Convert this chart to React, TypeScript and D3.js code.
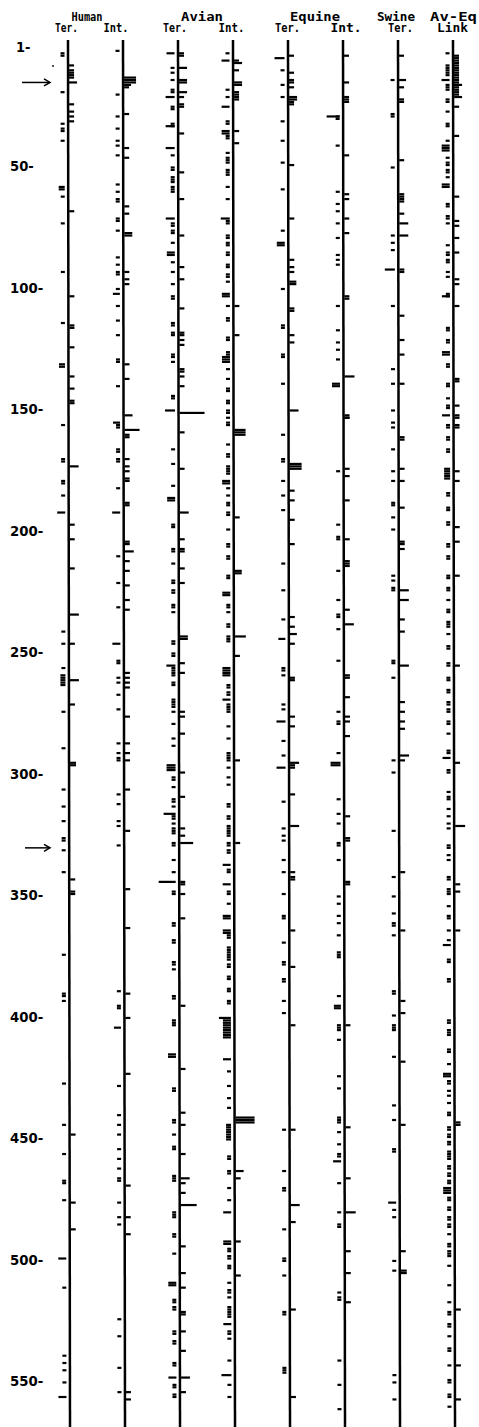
import React from "react";
import * as d3 from "d3";

// [position, side (-1 left / 1 right), length px (optional), run of consecutive positions (optional)]
type Mark = [number, number, number?, number?];

const columns = ["humanTer", "humanInt", "avianTer", "avianInt", "equineTer", "equineInt", "swineTer", "avEqLink"];
const subLabels = ["Ter.", "Int.", "Ter.", "Int.", "Ter.", "Int.", "Ter.", "Link"];
const groupNames = ["Human", "Avian", "Equine", "Swine", "Av-Eq"];
const groupCols = [[0, 1], [2, 3], [4, 5], [6, 6], [7, 7]];
const axisTicks = [1, 50, 100, 150, 200, 250, 300, 350, 400, 450, 500, 550];
const arrowMarks = [16, 331];

const humanTer: Mark[] = [
  [4,-1,4,2],[9,1],[11,1,5,4],[16,1,8],[20,-1],[25,1],[28,1],[30,1],[32,1],[33,-1],[35,-1,4,2],[40,-1],
  [59,-1,6,2],[63,-1],[69,1],[74,-1],[94,-1],[104,1],[115,-1],[116,1,5,2],[125,1],[132,-1,6,2],[137,1],
  [142,1],[147,1,5,2],[157,-1],[171,-1,4,2],[174,1,9],[180,-1,4,2],[186,-1],[193,-1,8],[198,1],[204,1],
  [216,1],[235,1,9],[242,-1],[247,-1],[247,1],[257,-1],[260,-1,5,5],[262,1,9],[272,1],[275,-1],[290,-1],
  [296,1,6,2],[307,-1],[314,-1],[320,-1],[327,-1,4,2],[332,-1],[341,-1],[344,1],[349,1,5,2],[375,-1],
  [391,-1,4,2],[394,-1],[428,-1],[445,-1],[449,1],[457,-1],[468,-1,4,2],[476,-1],[477,1],[488,1],
  [500,-1,8],[512,-1],[540,-1],[543,-1],[546,-1],[551,-1],[557,-1,8],
];

const humanInt: Mark[] = [
  [3,-1],[14,1,12,3],[17,1,7],[18,1],[21,-1],[29,1],[30,-1],[35,-1],[40,-1],[42,-1],[43,1],[46,-1],[47,1],
  [58,-1],[61,-1],[64,-1,4,2],[67,1],[70,1],[72,-1,4,2],[77,-1],[78,1,8,2],[88,-1],[91,-1],[94,1],
  [94,-1,4,2],[97,1],[99,1],[101,-1],[103,-1,7],[108,-1],[114,-1],[120,-1],[130,-1,4,2],[132,1],[138,1],
  [141,-1],[153,1,8],[156,-1,7],[157,-1,4,2],[159,1,15],[161,1,5,2],[167,-1,4,2],[171,-1,4,2],[171,1],
  [174,1],[176,1],[179,1,5,2],[183,-1],[189,1,5,2],[193,-1,8],[205,1,5,2],[209,1,9],[211,-1],[213,1],
  [217,1],[222,-1],[223,1],[229,1],[232,-1],[233,1],[247,-1,8],[254,-1,4,2],[259,1],[261,-1],[261,1],
  [263,-1],[263,1],[265,1],[268,-1],[274,-1],[277,1],[288,-1],[288,1],[292,-1],[292,1],[294,-1,4,2],
  [295,1],[307,1],[309,-1],[313,-1],[320,-1],[322,-1],[324,1],[330,-1],[348,1],[364,1],[390,-1],[391,1],
  [396,-1],[397,-1],[401,1],[405,-1,7],[424,1],[429,-1],[441,-1],[445,-1],[449,-1],[455,-1],[459,-1],
  [463,-1],[467,-1,4,2],[470,1],[477,-1],[483,-1],[483,1],[486,-1],[490,1],[525,-1],[532,-1],[545,-1],
  [555,-1],[555,1],[558,1],
];

const avianTer: Mark[] = [
  [4,-1,8],[4,1,5,2],[10,1,8],[10,-1],[12,-1],[15,1,8,2],[15,-1],[19,-1,4,2],[20,1,8],[22,-1,9],[22,1],
  [25,1,5,2],[26,-1,4,2],[33,-1,4,2],[34,-1,9],[37,1],[43,-1,9],[46,-1],[51,-1,4,2],[53,1],[55,-1,4,3],
  [59,-1,4,3],[64,1],[72,-1,9],[74,-1,4,2],[77,-1,4,2],[79,1],[82,-1],[86,-1,8,2],[90,-1],[92,1],[94,-1],
  [97,1],[99,-1],[104,-1,4,2],[109,1],[115,-1,4,2],[119,-1,4,2],[119,1,5,2],[122,1],[124,1],[128,-1,4,2],
  [131,-1],[134,1,5,2],[137,1],[141,1],[145,-1,4,2],[151,-1,10],[152,1,25],[160,1],[167,-1],[173,-1],
  [175,1],[182,-1],[187,-1,8,2],[193,1,9],[198,-1,4,2],[204,1],[208,-1,4,2],[208,1,5,2],[214,-1],[216,1],
  [221,-1,4,2],[222,1],[225,-1,4,2],[231,-1,4,2],[234,-1],[244,1,8,2],[246,-1,4,2],[251,-1,4,2],[255,1],
  [256,-1,9],[257,-1,4,4],[259,1],[263,-1,4,2],[270,-1,4,2],[272,-1,4,2],[275,-1],[275,1],[277,1],
  [280,-1],[284,1],[286,-1],[289,-1],[297,-1,9,3],[300,1],[302,-1,4,2],[306,-1],[310,1],[311,-1,4,2],
  [314,-1],[317,-1,12],[318,-1,4,2],[321,-1],[323,-1],[323,1],[324,-1,4,2],[326,1],[329,1,13],
  [329,-1,4,2],[336,-1],[341,-1],[345,-1,17],[345,1,5,2],[349,-1,4,2],[350,1],[360,1],[362,-1,4,2],
  [369,-1,4,2],[378,-1,4,2],[381,-1],[392,-1,4,2],[396,1],[402,-1,4,3],[416,-1,8,2],[422,1],[430,-1,4,2],
  [440,1],[443,-1,4,2],[445,1],[449,-1],[454,-1,4,2],[457,1],[466,-1,4,3],[467,1,9],[469,1],[473,1],
  [478,1,16],[481,-1,4,2],[483,-1],[490,-1,4,2],[495,1],[498,-1],[506,1],[510,-1,8,2],[512,1],
  [517,-1,4,2],[520,-1,4,2],[522,1,5,2],[530,-1,4,2],[530,1],[534,-1,4,2],[538,1],[543,-1,4,2],
  [549,-1,8],[549,1,9],[552,-1,4,2],[555,1],[556,-1,4,2],
];

const avianInt: Mark[] = [
  [4,-1],[7,1],[7,-1,8],[8,1,8],[11,1],[16,1,8,2],[19,-1],[20,1,5,4],[22,-1],[26,-1,8],[32,-1,4,2],
  [36,-1,8,2],[36,1],[38,-1,4,2],[41,1],[45,-1],[47,-1],[48,-1,4,2],[52,-1,4,2],[54,-1],[59,-1],[64,-1],
  [72,-1,9],[73,-1,4,2],[79,-1,4,2],[82,-1,4,2],[86,-1,4,2],[91,-1,4,2],[95,-1,4,2],[98,-1],[103,-1,8,2],
  [108,-1],[108,1],[113,-1,4,2],[120,1],[121,-1,4,2],[127,-1,4,2],[129,-1,8,3],[134,-1],[138,-1],
  [142,-1,4,2],[147,-1,4,2],[151,-1,4,2],[154,-1],[156,-1,4,2],[159,1,11,3],[165,-1],[169,-1,4,2],
  [174,-1,4,2],[176,-1,4,2],[180,-1,8,2],[183,-1],[186,-1],[189,-1,4,2],[193,-1,4,2],[195,1],[200,-1],
  [206,-1,4,2],[211,-1,4,2],[217,1,7,2],[219,-1,4,2],[226,-1,8,2],[231,-1,4,2],[234,-1],[239,-1,4,2],
  [244,1,11],[244,-1,4,3],[252,1],[257,-1,8,4],[264,-1,4,2],[267,-1,4,2],[270,-1,8],[272,-1,4,4],
  [281,-1],[286,-1],[292,-1,4,4],[295,1],[298,-1],[302,-1],[305,-1],[313,-1,4,2],[318,-1,4,2],
  [322,-1,4,5],[329,-1,4,2],[329,1],[332,-1,4,2],[338,-1,8],[340,-1,4,2],[346,-1,8],[349,-1,4,2],
  [354,-1],[359,-1,8,2],[365,-1,8,2],[367,-1,4,2],[372,-1,4,6],[379,-1,4,2],[384,-1,4,2],[389,-1,4,2],
  [394,-1,4,2],[401,-1,12],[402,-1,8,8],[418,-1,8],[423,-1],[429,-1],[434,-1],[438,-1],[442,1,19,3],
  [445,-1,5,7],[458,-1,4,2],[464,-1,4,2],[464,1,8],[467,1],[471,-1],[476,-1],[481,-1,8],[493,-1,8,2],
  [493,1],[496,-1,4,2],[499,-1,4,2],[503,-1,4,2],[507,1],[510,-1],[513,-1,4,2],[516,-1],[520,-1,4,2],
  [522,-1,4,3],[527,-1,8],[530,-1,4,2],[533,-1],[542,-1],[548,-1,10],[552,-1],[557,-1],
];

const equineTer: Mark[] = [
  [5,1],[6,-1,10],[11,-1],[12,1],[15,1],[16,1],[17,-1],[18,1],[22,-1],[22,1,8,2],[24,1],[25,1],[32,-1],
  [40,-1],[49,-1],[50,1],[60,-1],[72,1],[77,-1],[82,-1,8,2],[89,1],[92,1],[94,1],[98,1,7,2],[101,-1],
  [109,1,5,2],[116,-1],[117,-1],[120,1],[123,1],[128,-1],[129,-1],[140,-1],[151,1,9],[161,-1],
  [171,-1,4,2],[173,1,12,3],[180,-1],[184,1],[186,-1],[188,1],[192,-1],[196,1],[206,1],[214,-1],
  [225,-1],[236,1],[237,-1],[240,1],[243,1,7],[245,-1,7],[247,1],[257,-1,4,2],[260,-1],[261,1,5,2],
  [272,-1],[274,-1],[277,1],[279,-1,9],[281,1],[287,-1],[293,-1],[296,1,9],[297,1,5,2],[298,-1,9],
  [309,1],[312,-1],[322,1,9],[323,-1],[326,-1],[328,-1],[336,-1],[341,-1],[341,1],[343,1,5,2],[350,-1],
  [359,-1,4,2],[365,1],[370,-1],[378,-1,4,2],[380,1],[385,-1,4,2],[394,-1],[399,-1],[404,1],[447,-1],
  [447,1],[464,-1],[471,-1,4,2],[478,1,9],[485,1],[488,-1],[500,-1,4,2],[507,-1],[521,1],[522,-1,4,2],
  [545,-1,4,2],[547,-1],[557,1],
];

const equineInt: Mark[] = [
  [5,1],[16,1],[22,1,5,3],[30,-1,13],[30,-1,4,2],[42,-1],[46,1],[61,-1],[62,1],[64,1],[66,-1],[69,-1],
  [72,1],[74,-1],[78,1],[80,-1],[87,-1],[89,-1],[91,-1],[104,1,5,2],[108,-1],[118,-1],[123,-1],[126,-1],
  [130,-1],[137,1,10],[140,-1,8,2],[153,1,5,2],[154,1],[175,1],[176,-1],[178,1],[188,1],[198,-1],
  [203,-1,4,2],[204,1],[213,1],[214,1,5,2],[217,-1],[229,-1],[233,1],[235,-1,4,2],[239,1,9],[241,-1],
  [254,-1],[260,1,5,2],[269,1],[275,-1],[277,1],[279,-1],[279,1],[280,-1],[285,1],[292,-1],
  [296,-1,10,2],[311,-1],[317,-1],[318,1],[321,-1],[327,1,5,2],[329,-1,4,2],[336,-1],[345,1,5,2],
  [351,-1],[354,-1],[359,-1],[362,-1],[367,-1],[374,-1,4,3],[392,-1],[396,-1,7,2],[404,1],[404,-1,4,3],
  [410,-1],[425,-1],[430,-1],[442,-1,4,3],[446,1],[448,-1],[453,-1],[457,-1,4,2],[460,-1,8],[467,1],
  [469,-1],[481,-1],[481,1,10],[486,-1,4,2],[497,1],[506,1],[514,-1],[516,-1,4,2],[518,1],[542,-1],
  [552,-1],[562,-1],
];

const swineTer: Mark[] = [
  [5,1],[15,-1],[15,1,7],[18,1],[23,1,5,2],[29,-1,4,2],[48,1],[51,-1],[62,1,5,4],[70,1],[74,1,9],
  [79,-1],[79,1,9],[82,-1],[85,-1],[93,-1,10],[93,1,5,2],[108,-1],[112,1],[122,1],[128,1],[134,-1],
  [140,-1],[140,1],[151,-1],[156,-1],[158,-1],[162,1,5,2],[167,-1],[175,1],[176,-1],[180,-1],[180,1],
  [189,-1,4,2],[191,1],[195,-1],[200,-1],[205,1,5,2],[208,1],[219,-1],[221,-1],[224,-1,4,2],[225,1,9],
  [229,1,9],[237,1],[242,1],[254,-1,4,2],[256,1,9],[261,-1],[271,1],[275,1],[279,1],[282,1],[293,1,9],
  [295,-1],[295,1],[300,-1],[324,-1],[341,1],[343,-1],[351,-1],[358,-1],[362,-1,4,2],[365,1],[367,-1],
  [390,-1,4,2],[394,1],[399,1],[400,-1],[404,-1,4,3],[417,-1],[419,1],[437,-1],[443,-1],[445,1],
  [455,-1,4,2],[477,-1,8],[480,-1],[483,-1],[497,1],[501,-1],[505,-1],[505,1,6,2],[548,-1],[551,-1],
  [558,-1],
];

const avEqLink: Mark[] = [
  [4,-1],[5,1,5,17],[9,-1,4,5],[15,-1,8],[17,-1,4,3],[17,1,8],[22,1,8],[23,-1,4,2],[26,1],[28,-1],
  [33,-1,4,2],[38,1],[40,-1],[42,-1,8,3],[47,-1],[49,-1,4,2],[52,-1,4,2],[55,-1],[58,-1,8,2],[63,1],
  [66,-1,4,2],[71,-1,4,2],[73,1],[74,-1],[75,1],[80,1],[83,-1],[86,-1,4,2],[86,1],[89,-1,4,2],[94,-1],
  [96,-1],[97,1],[99,1],[103,-1,4,2],[104,-1,8],[108,1],[117,-1,4,2],[122,-1,4,2],[127,-1,8,2],
  [132,-1,4,2],[138,1,5,2],[140,-1,4,2],[146,-1],[149,-1,4,2],[149,1],[153,-1,8],[153,1,5,2],
  [157,-1,4,2],[157,1,5,2],[162,-1,4,2],[167,-1,4,2],[175,-1,6,5],[176,1],[180,1],[185,-1,4,2],
  [191,-1,4,2],[197,-1,4,2],[199,1],[205,1],[206,-1,4,2],[211,-1,4,2],[219,-1,4,2],[219,1],[224,-1,4,2],
  [229,-1],[233,-1,4,2],[238,-1,4,3],[243,-1],[248,-1,4,2],[255,-1,4,2],[256,1],[261,-1,4,2],
  [266,-1,4,2],[271,-1,4,2],[274,-1,4,2],[279,-1,4,2],[284,-1],[291,-1,4,2],[294,-1,8],[296,1],
  [299,-1,4,2],[308,-1],[310,-1,4,2],[315,-1],[318,-1],[321,-1],[322,1,10],[323,-1],[330,-1,4,2],
  [334,-1],[336,-1],[343,-1,4,2],[346,1],[348,-1,4,3],[349,1],[355,-1],[359,-1,4,2],[365,-1],[365,1],
  [369,-1],[371,-1,8],[377,-1,4,2],[385,-1,4,2],[402,-1,4,2],[406,-1,4,2],[408,-1],[414,-1,4,2],
  [420,-1],[424,-1,8,2],[427,-1,4,2],[431,-1],[433,-1],[436,-1],[440,-1,4,2],[444,1,5,2],[446,-1,4,2],
  [449,-1,4,2],[452,-1,4,2],[456,-1,4,2],[458,-1,4,2],[462,-1,4,2],[465,-1,4,2],[468,-1,4,2],
  [471,-1,8,3],[475,-1,4,2],[479,-1,4,2],[483,-1,4,2],[486,-1,4,2],[490,-1],[494,-1,4,2],[497,-1,4,2],
  [499,-1],[503,-1],[511,-1],[518,-1],[521,1],[522,-1,4,2],[527,-1,4,2],[532,-1],[537,-1,4,2],
  [544,-1],[544,1],[550,-1,4,2],[556,-1],[557,-1],[558,1],[561,-1],
];

const marksByColumn: Mark[][] = [humanTer, humanInt, avianTer, avianInt, equineTer, equineInt, swineTer, avEqLink];

const W = 479;
const H = 1427;
const lineTop = 40;
const tilt = 2 / 1387; // the scanned page leans a little

const y = d3.scaleLinear().domain([1, 550]).range([46, 1380]);
const x = d3.scalePoint<string>().domain(columns).range([68, 453]);

function lineX(col: string, yy: number) {
  return (x(col) as number) + (yy - lineTop) * tilt;
}

// label nudges, as set in the original
const groupDx = [-8.5, -3.5, -0.5, -2, 0.5];
const subDx = [-1.5, -7, -3, -1.5, -0.5, 3, 2.5, -0.5];
const groupW = [31, 42, 50, 38, 47];
const subW = [23, 25, 24, 26, 25, 31, 25, 31];

export default function App() {
  const ticks: { x1: number; x2: number; y: number; key: string }[] = [];
  marksByColumn.forEach((marks, ci) => {
    const col = columns[ci];
    marks.forEach((m, mi) => {
      const [p, side, len, n] = m;
      const count = n ?? 1;
      for (let k = 0; k < count; k++) {
        const yy = y(p + k);
        const lx = lineX(col, yy);
        let x1: number, x2: number;
        if (side < 0) {
          const L = len ?? 4;
          x2 = lx - 3.5;
          x1 = x2 - L;
        } else {
          const L = len ?? 5;
          x1 = lx + 1;
          x2 = x1 + L;
        }
        ticks.push({ x1, x2, y: yy, key: `${ci}-${mi}-${k}` });
      }
    });
  });

  const fontHead = "'DejaVu Sans Mono', monospace";
  const fontAxis = "'DejaVu Sans', sans-serif";

  return (
    <svg
      width={W}
      height={H}
      viewBox={`0 0 ${W} ${H}`}
      style={{ position: "absolute", left: 0, top: 0, background: "#fff" }}
    >
      <rect width={W} height={H} fill="#fff" />

      {/* headers */}
      {groupNames.map((g, i) => {
        const cs = groupCols[i];
        const cx = ((x(columns[cs[0]]) as number) + (x(columns[cs[1]]) as number)) / 2 + groupDx[i];
        return (
          <text key={g} x={cx} y={20.5} textAnchor="middle" fontFamily={fontHead} fontWeight="bold"
            fontSize={11.5} textLength={groupW[i]} lengthAdjust="spacingAndGlyphs" fill="#000">
            {g}
          </text>
        );
      })}
      {subLabels.map((s, i) => (
        <text key={i} x={(x(columns[i]) as number) + subDx[i]} y={32} textAnchor="middle"
          fontFamily={fontHead} fontWeight="bold" fontSize={11.5} textLength={subW[i]}
          lengthAdjust="spacingAndGlyphs" fill="#000">
          {s}
        </text>
      ))}

      {/* position axis labels */}
      {axisTicks.map((t) => {
        const label = `${t}-`;
        const digits = String(t).length;
        return (
          <text key={t} x={t === 1 ? 16 : 10} y={y(t) + 6} fontFamily={fontAxis} fontWeight="bold"
            fontSize={14} textLength={digits * 9.4 + 5} lengthAdjust="spacingAndGlyphs" fill="#000">
            {label}
          </text>
        );
      })}

      {/* arrows */}
      {arrowMarks.map((p, i) => {
        const yy = y(p);
        const x0 = i === 0 ? 22 : 25;
        const x1 = 50;
        return (
          <g key={p} stroke="#000" fill="none" strokeWidth={1.5}>
            <line x1={x0} x2={x1} y1={yy} y2={yy} />
            <path d={`M${x1 - 6},${yy - 3.5} L${x1},${yy} L${x1 - 6},${yy + 3.5}`} />
          </g>
        );
      })}
      <circle cx={53} cy={66} r={0.9} fill="#000" />

      {/* sequence lines */}
      {columns.map((c) => (
        <line key={c} x1={lineX(c, lineTop)} x2={lineX(c, H)} y1={lineTop} y2={H} stroke="#000" strokeWidth={2.5} />
      ))}

      {/* substitution ticks */}
      {ticks.map((t) => (
        <line key={t.key} x1={t.x1} x2={t.x2} y1={t.y} y2={t.y} stroke="#000" strokeWidth={2.2} />
      ))}
    </svg>
  );
}
